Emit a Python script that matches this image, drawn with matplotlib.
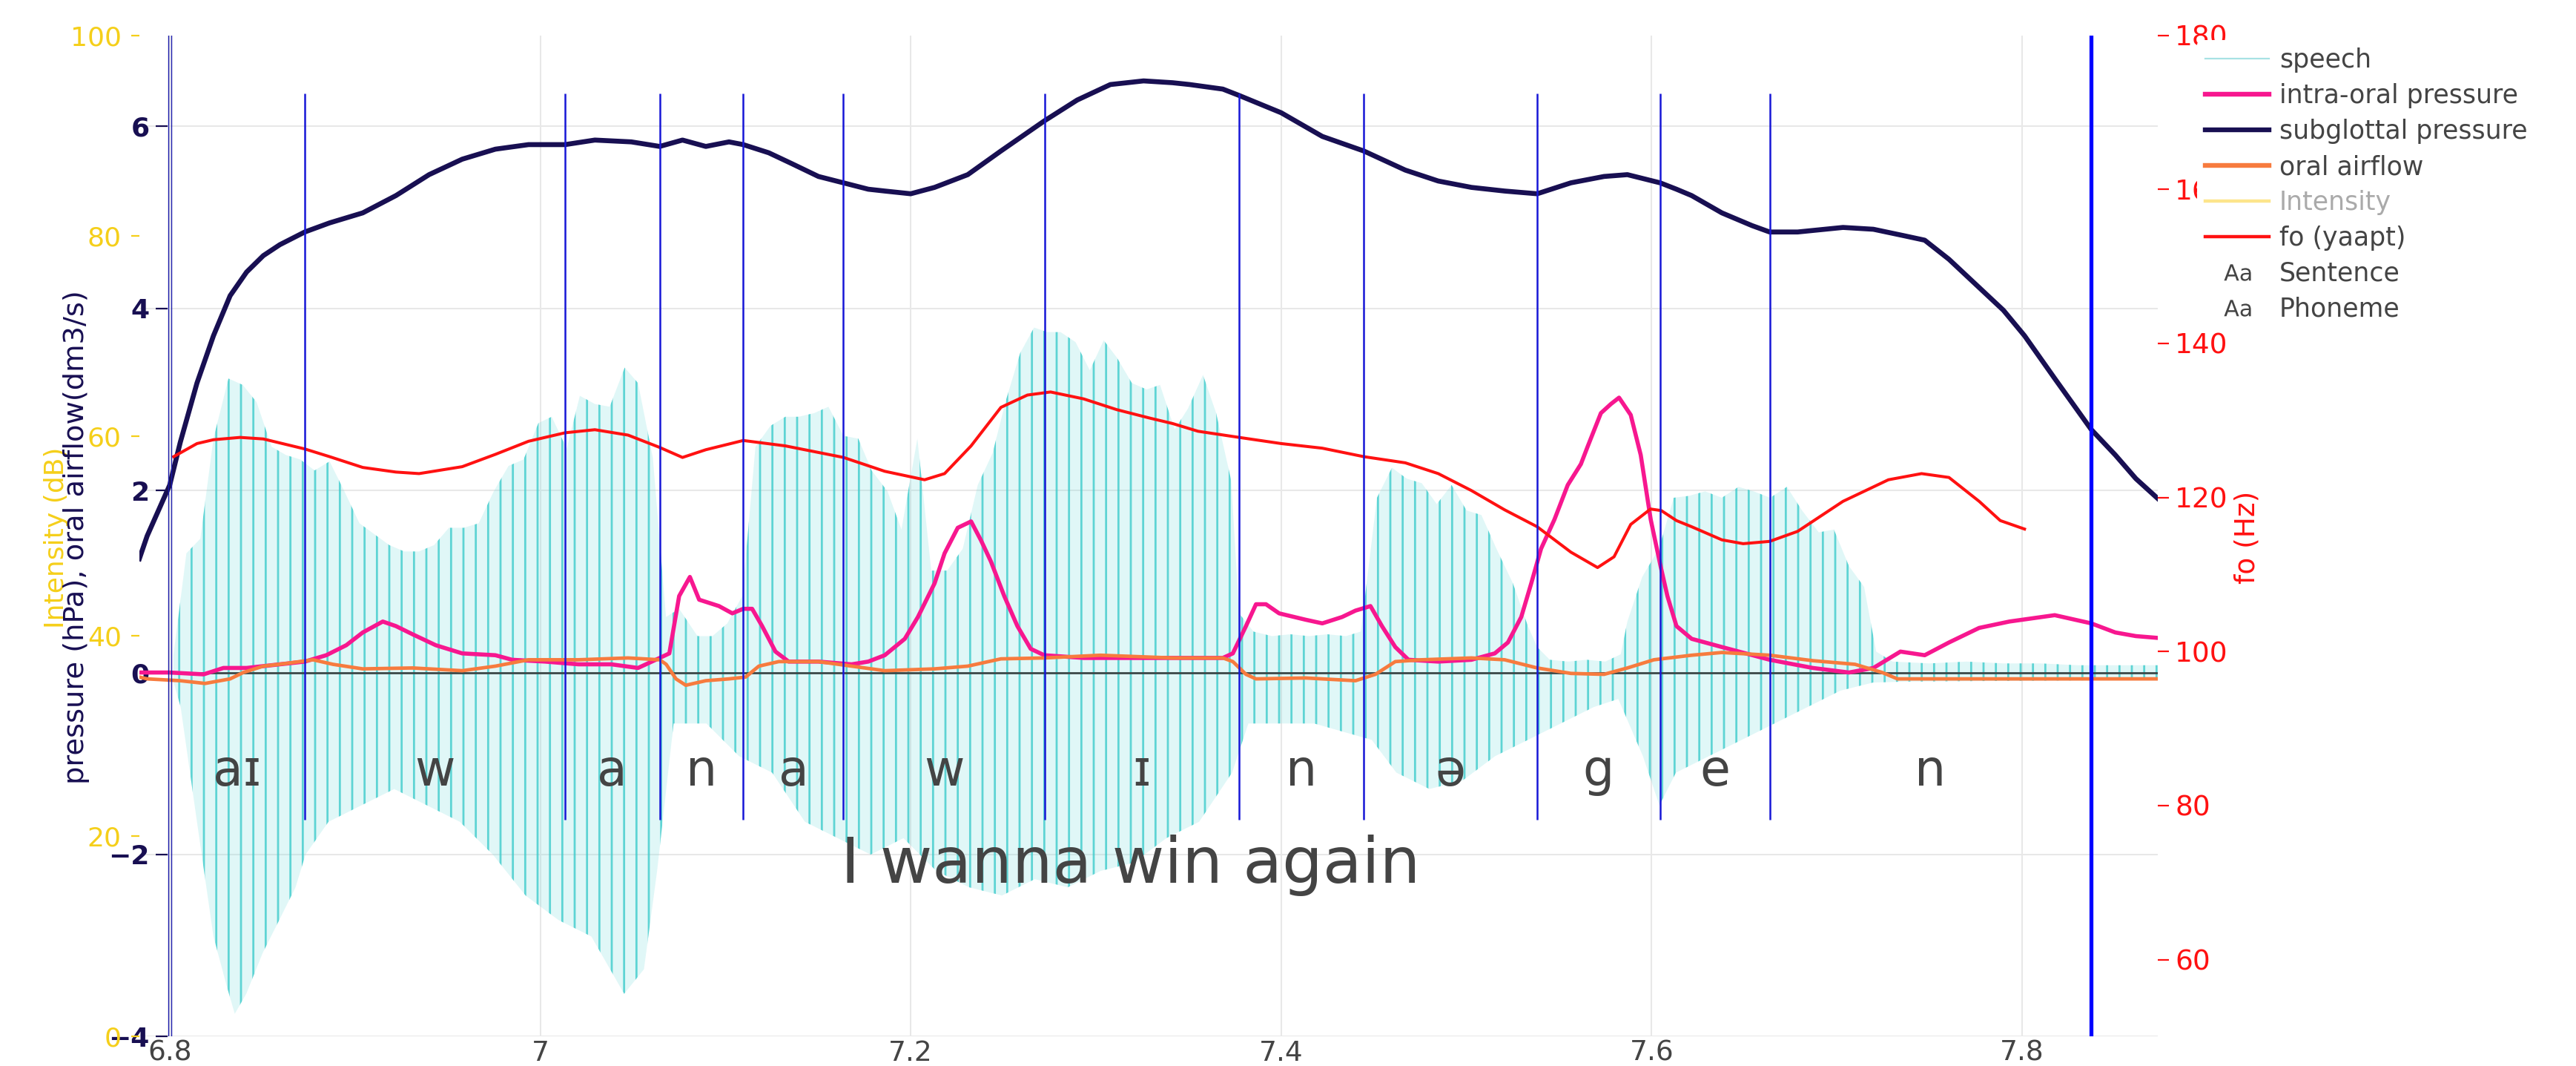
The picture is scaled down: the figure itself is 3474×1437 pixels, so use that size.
import numpy as np
import matplotlib.pyplot as plt
import matplotlib.transforms as mtransforms
from matplotlib.lines import Line2D

plt.rcParams["font.family"] = ["DejaVu Sans"]
plt.rcParams["hatch.linewidth"] = 1.0

# 时间范围 (s)
x_min, x_max = 6.7836, 7.8733

# subglottal pressure (hPa)
sub_t = [6.7836, 6.7878, 6.8000, 6.8057, 6.8147, 6.8236, 6.8326, 6.8415, 6.8505, 6.8594,
         6.8729, 6.8863, 6.9042, 6.9221, 6.9400, 6.9579, 6.9758, 6.9937, 7.0134, 7.0295,
         7.0492, 7.0645, 7.0768, 7.0894, 7.1019, 7.1096, 7.1234, 7.1359, 7.1502, 7.1637,
         7.1771, 7.1860, 7.2000, 7.2129, 7.2308, 7.2487, 7.2721, 7.2899, 7.3078, 7.3257,
         7.3414, 7.3506, 7.3685, 7.3773, 7.4000, 7.4222, 7.4446, 7.4670, 7.4848, 7.5027,
         7.5206, 7.5382, 7.5564, 7.5743, 7.5869, 7.6046, 7.6134, 7.6216, 7.6379, 7.6542,
         7.6637, 7.6788, 7.7033, 7.7197, 7.7360, 7.7474, 7.7605, 7.7752, 7.7899, 7.8013,
         7.8176, 7.8373, 7.8503, 7.8614, 7.8733]
sub_p = [1.25, 1.50, 2.06, 2.53, 3.18, 3.70, 4.14, 4.40, 4.58, 4.70,
         4.84, 4.94, 5.05, 5.24, 5.47, 5.64, 5.75, 5.80, 5.80, 5.85,
         5.83, 5.78, 5.85, 5.78, 5.83, 5.80, 5.71, 5.59, 5.45, 5.38,
         5.31, 5.29, 5.26, 5.33, 5.47, 5.73, 6.06, 6.29, 6.46, 6.50,
         6.48, 6.46, 6.41, 6.34, 6.15, 5.89, 5.73, 5.52, 5.40, 5.33,
         5.29, 5.26, 5.38, 5.45, 5.47, 5.38, 5.31, 5.24, 5.05, 4.91,
         4.84, 4.84, 4.89, 4.87, 4.80, 4.75, 4.54, 4.26, 3.98, 3.70,
         3.23, 2.67, 2.39, 2.13, 1.91]

# intra-oral pressure (hPa)
io_t = [6.7836, 6.8000, 6.8183, 6.8290, 6.8415, 6.8594, 6.8729, 6.8845, 6.8953, 6.9042,
        6.9150, 6.9221, 6.9311, 6.9436, 6.9579, 6.9758, 6.9848, 7.0027, 7.0206, 7.0384,
        7.0528, 7.0645, 7.0697, 7.0750, 7.0808, 7.0858, 7.0965, 7.1037, 7.1096, 7.1144,
        7.1198, 7.1270, 7.1341, 7.1502, 7.1681, 7.1771, 7.1860, 7.1968, 7.2039, 7.2129,
        7.2183, 7.2254, 7.2326, 7.2380, 7.2433, 7.2505, 7.2576, 7.2648, 7.2721, 7.2934,
        7.3203, 7.3414, 7.3685, 7.3739, 7.3810, 7.3864, 7.3918, 7.3989, 7.4132, 7.4222,
        7.4329, 7.4401, 7.4482, 7.4544, 7.4616, 7.4687, 7.4848, 7.5027, 7.5153, 7.5224,
        7.5296, 7.5350, 7.5403, 7.5475, 7.5547, 7.5618, 7.5654, 7.5726, 7.5780, 7.5824,
        7.5887, 7.5941, 7.5995, 7.6048, 7.6085, 7.6134, 7.6216, 7.6379, 7.6637, 7.6870,
        7.7065, 7.7197, 7.7343, 7.7474, 7.7605, 7.7768, 7.7931, 7.8176, 7.8373, 7.8503,
        7.8614, 7.8733]
io_p = [0.00, 0.00, -0.02, 0.05, 0.05, 0.09, 0.12, 0.19, 0.30, 0.44,
        0.56, 0.51, 0.42, 0.30, 0.21, 0.19, 0.14, 0.12, 0.09, 0.09,
        0.05, 0.16, 0.21, 0.84, 1.05, 0.80, 0.73, 0.65, 0.70, 0.70,
        0.51, 0.23, 0.12, 0.12, 0.09, 0.12, 0.19, 0.37, 0.61, 0.98,
        1.31, 1.59, 1.66, 1.45, 1.22, 0.84, 0.51, 0.26, 0.19, 0.16,
        0.16, 0.16, 0.16, 0.21, 0.51, 0.75, 0.75, 0.65, 0.58, 0.54,
        0.61, 0.68, 0.73, 0.51, 0.28, 0.14, 0.12, 0.14, 0.21, 0.33,
        0.61, 0.98, 1.36, 1.68, 2.06, 2.29, 2.48, 2.85, 2.95, 3.02,
        2.83, 2.39, 1.68, 1.17, 0.84, 0.51, 0.37, 0.28, 0.14, 0.05,
        0.00, 0.05, 0.23, 0.19, 0.33, 0.49, 0.56, 0.63, 0.54, 0.44,
        0.40, 0.38]

# oral airflow (dm3/s)
oa_t = [6.7836, 6.7878, 6.8057, 6.8191, 6.8326, 6.8397, 6.8505, 6.8630, 6.8773, 6.8881,
        6.9042, 6.9311, 6.9579, 6.9758, 6.9937, 7.0206, 7.0474, 7.0645, 7.0680, 7.0733,
        7.0786, 7.0894, 7.1019, 7.1109, 7.1180, 7.1288, 7.1502, 7.1681, 7.1860, 7.2129,
        7.2308, 7.2487, 7.2722, 7.3024, 7.3414, 7.3685, 7.3739, 7.3810, 7.3864, 7.4132,
        7.4401, 7.4509, 7.4616, 7.4759, 7.5027, 7.5206, 7.5382, 7.5564, 7.5743, 7.5869,
        7.6012, 7.6216, 7.6379, 7.6637, 7.6870, 7.7098, 7.7245, 7.7327, 7.7686, 7.8733]
oa_v = [-0.05, -0.07, -0.09, -0.12, -0.07, 0.00, 0.07, 0.10, 0.14, 0.09,
        0.04, 0.05, 0.02, 0.07, 0.14, 0.14, 0.16, 0.14, 0.09, -0.07,
        -0.14, -0.09, -0.07, -0.05, 0.07, 0.12, 0.12, 0.07, 0.02, 0.04,
        0.07, 0.15, 0.16, 0.19, 0.16, 0.16, 0.12, -0.02, -0.07, -0.06,
        -0.09, -0.02, 0.12, 0.14, 0.16, 0.14, 0.05, -0.01, -0.02, 0.05,
        0.14, 0.19, 0.22, 0.19, 0.13, 0.09, 0.00, -0.07, -0.07, -0.07]

# fo (yaapt), Hz
fo_t = [6.8021, 6.8147, 6.8236, 6.8380, 6.8505, 6.8729, 6.8863, 6.9042, 6.9221, 6.9346,
        6.9579, 6.9758, 6.9937, 7.0134, 7.0295, 7.0474, 7.0645, 7.0768, 7.0894, 7.1096,
        7.1323, 7.1637, 7.1860, 7.2075, 7.2183, 7.2326, 7.2487, 7.2630, 7.2755, 7.2934,
        7.3113, 7.3292, 7.3414, 7.3551, 7.3773, 7.4000, 7.4222, 7.4446, 7.4670, 7.4848,
        7.5027, 7.5206, 7.5382, 7.5564, 7.5708, 7.5797, 7.5887, 7.5994, 7.6052, 7.6134,
        7.6216, 7.6379, 7.6494, 7.6637, 7.6788, 7.7033, 7.7278, 7.7457, 7.7605, 7.7768,
        7.7882, 7.8013]
fo_hz = [125.3, 127.0, 127.5, 127.8, 127.6, 126.3, 125.3, 123.9, 123.3, 123.1,
         124.0, 125.6, 127.3, 128.4, 128.8, 128.1, 126.5, 125.2, 126.2, 127.4,
         126.7, 125.2, 123.4, 122.3, 123.1, 126.7, 131.7, 133.3, 133.7, 132.8,
         131.4, 130.3, 129.6, 128.6, 127.8, 127.0, 126.4, 125.3, 124.5, 123.1,
         120.9, 118.4, 116.2, 112.9, 110.9, 112.3, 116.5, 118.5, 118.3, 117.0,
         116.2, 114.5, 114.0, 114.3, 115.6, 119.5, 122.3, 123.1, 122.6, 119.5,
         117.0, 115.9]

# speech waveform: upper and lower envelope of the pulses
sp_hi_t = [6.8020, 6.8090, 6.8165, 6.8236, 6.8317, 6.8394, 6.8469, 6.8550, 6.8627, 6.8705,
           6.8782, 6.8863, 6.8943, 6.9024, 6.9104, 6.9185, 6.9266, 6.9346, 6.9427, 6.9507,
           6.9588, 6.9668, 6.9749, 6.9829, 6.9910, 6.9990, 7.0062, 7.0143, 7.0214, 7.0295,
           7.0375, 7.0456, 7.0528, 7.0608, 7.0679, 7.0750, 7.0849, 7.0930, 7.1010, 7.1091,
           7.1162, 7.1243, 7.1323, 7.1395, 7.1479, 7.1556, 7.1637, 7.1717, 7.1789, 7.1875,
           7.1950, 7.2036, 7.2111, 7.2197, 7.2281, 7.2362, 7.2442, 7.2514, 7.2591, 7.2666,
           7.2737, 7.2809, 7.2890, 7.2967, 7.3042, 7.3113, 7.3194, 7.3274, 7.3346, 7.3425,
           7.3497, 7.3578, 7.3649, 7.3730, 7.3773, 7.3850, 7.3950, 7.4050, 7.4150, 7.4250,
           7.4350, 7.4430, 7.4517, 7.4598, 7.4678, 7.4759, 7.4840, 7.4920, 7.5001, 7.5081,
           7.5162, 7.5251, 7.5332, 7.5382, 7.5450, 7.5550, 7.5650, 7.5750, 7.5833, 7.5869,
           7.5949, 7.6039, 7.6119, 7.6199, 7.6289, 7.6379, 7.6469, 7.6551, 7.6640, 7.6730,
           7.6812, 7.6902, 7.6984, 7.7065, 7.7147, 7.7212, 7.7300, 7.7500, 7.7700, 7.7900,
           7.8100, 7.8300, 7.8500, 7.8733]
sp_hi = [0.19, 1.31, 1.47, 2.57, 3.23, 3.16, 2.97, 2.48, 2.39, 2.34,
         2.22, 2.32, 1.99, 1.64, 1.52, 1.40, 1.33, 1.33, 1.40, 1.59,
         1.59, 1.64, 1.99, 2.27, 2.34, 2.74, 2.81, 2.46, 3.04, 2.95,
         2.92, 3.35, 3.18, 2.36, 0.61, 0.70, 0.40, 0.40, 0.54, 0.84,
         2.48, 2.71, 2.81, 2.81, 2.85, 2.92, 2.60, 2.57, 2.22, 1.99,
         1.57, 2.57, 1.12, 1.12, 1.36, 2.06, 2.41, 2.99, 3.51, 3.79,
         3.74, 3.74, 3.63, 3.32, 3.65, 3.46, 3.18, 3.11, 3.16, 2.67,
         2.90, 3.27, 2.85, 2.11, 0.65, 0.45, 0.40, 0.42, 0.40, 0.42,
         0.40, 0.45, 1.92, 2.25, 2.13, 2.08, 1.85, 2.06, 1.78, 1.73,
         1.36, 0.98, 0.51, 0.28, 0.14, 0.12, 0.14, 0.12, 0.20, 0.56,
         1.05, 1.36, 1.92, 1.94, 1.99, 1.92, 2.04, 1.99, 1.92, 2.04,
         1.78, 1.54, 1.57, 1.17, 0.94, 0.23, 0.12, 0.10, 0.12, 0.10,
         0.10, 0.08, 0.08, 0.08]
sp_lo_t = [6.8020, 6.8059, 6.8147, 6.8236, 6.8307, 6.8351, 6.8413, 6.8502, 6.8591, 6.8679,
           6.8733, 6.8857, 6.9034, 6.9212, 6.9389, 6.9566, 6.9744, 6.9921, 7.0099, 7.0276,
           7.0453, 7.0560, 7.0631, 7.0720, 7.0897, 7.1074, 7.1252, 7.1429, 7.1606, 7.1784,
           7.1961, 7.2138, 7.2316, 7.2493, 7.2670, 7.2848, 7.3025, 7.3203, 7.3380, 7.3557,
           7.3735, 7.3823, 7.4178, 7.4489, 7.4622, 7.4800, 7.4977, 7.5154, 7.5332, 7.5509,
           7.5687, 7.5820, 7.5953, 7.6042, 7.6131, 7.6308, 7.6486, 7.6663, 7.6841, 7.7018,
           7.7195, 7.7373, 7.8733]
sp_lo = [-0.10, -0.38, -1.64, -2.90, -3.44, -3.75, -3.53, -3.08, -2.72, -2.36,
         -2.00, -1.64, -1.46, -1.28, -1.46, -1.64, -2.00, -2.45, -2.72, -2.90,
         -3.53, -3.26, -2.18, -0.56, -0.56, -0.92, -1.10, -1.64, -1.82, -2.00,
         -1.82, -2.18, -2.36, -2.45, -2.27, -2.36, -2.18, -2.09, -1.82, -1.64,
         -1.10, -0.56, -0.56, -0.74, -1.10, -1.28, -1.19, -0.92, -0.74, -0.56,
         -0.38, -0.29, -0.92, -1.46, -1.10, -0.92, -0.74, -0.56, -0.38, -0.20,
         -0.11, -0.10, -0.08]

# 音素边界与标注
phone_bounds = [6.8729, 7.0134, 7.0645, 7.1096, 7.1637, 7.2722, 7.3773, 7.4446,
                7.5382, 7.6046, 7.6637]
phone_labels = ["aɪ", "w", "a", "n", "a", "w", "ɪ", "n", "ə", "g", "e", "n"]
sent_start, sent_end = 6.8000, 7.8373
sentence = "I wanna win again"

navy = "#180f52"
pink = "#f7178f"
orange = "#f77b3e"
gold = "#f5cf1a"
red = "#ff1111"
grey_txt = "#444444"

fig = plt.figure(figsize=(17.37, 7.185), dpi=200)
ax = fig.add_axes([0.0541, 0.0276, 0.7836, 0.9392])
ax_int = ax.twinx()
ax_f0 = ax.twinx()

for a in (ax, ax_int, ax_f0):
    for s in a.spines.values():
        s.set_visible(False)

# 主轴：压力/气流
ax.set_xlim(x_min, x_max)
ax.set_ylim(-4, 7)
ax.set_axisbelow(True)
ax.set_xticks([6.8, 7.0, 7.2, 7.4, 7.6, 7.8])
ax.set_xticklabels(["6.8", "7", "7.2", "7.4", "7.6", "7.8"])
ax.tick_params(axis="x", length=0, pad=1.5, labelsize=13.5, labelcolor=grey_txt)
ax.set_yticks([-4, -2, 0, 2, 4, 6])
ax.spines["left"].set_position(("data", 6.7988))
ax.tick_params(axis="y", direction="out", length=5.8, width=0.8, color=navy,
               labelcolor=navy, labelsize=13, pad=2.9)
for lbl in ax.get_yticklabels():
    lbl.set_fontweight("bold")
ax.grid(True, color="#e8e8e8", lw=0.75)

# speech 波形（包络 + 竖线纹理）
poly_t = np.r_[sp_hi_t, sp_lo_t[::-1]]
poly_v = np.r_[sp_hi, sp_lo[::-1]]
ax.fill(poly_t, poly_v, facecolor=(0.40, 0.85, 0.85, 0.20),
        edgecolor=(0.20, 0.79, 0.79, 0.75), hatch="||", linewidth=0, zorder=1.5)

ax.axhline(0, color="#3b4848", lw=1.0, zorder=2)
ax.plot(io_t, io_p, color=pink, lw=2.0, zorder=3)
ax.plot(sub_t, sub_p, color=navy, lw=2.4, zorder=3.1)
ax.plot(oa_t, oa_v, color=orange, lw=1.7, zorder=3.2)

# Intensity 轴（左侧外缘）
ax_int.yaxis.tick_left()
ax_int.set_ylim(0, 100)
ax_int.set_yticks([0, 20, 40, 60, 80, 100])
ax_int.tick_params(axis="y", direction="out", length=4, width=0.8, color=gold,
                   labelcolor=gold, labelsize=13, pad=4.7)

# fo 轴（右侧）
ax_f0.set_ylim(50, 180)
ax_f0.set_yticks([60, 80, 100, 120, 140, 160, 180])
ax_f0.tick_params(axis="y", direction="out", length=5.4, width=0.8, color=red,
                  labelcolor=red, labelsize=13.5, pad=2.9)
ax_f0.plot(fo_t, fo_hz, color=red, lw=1.45, zorder=2)

# 边界线与文字（x 用数据坐标，y 用压力轴坐标）
blend = mtransforms.blended_transform_factory(ax_f0.transData, ax.transData)
ax_f0.vlines(phone_bounds, -1.62, 6.36, transform=blend, colors="#1616d6", lw=0.9, zorder=5)
ax_f0.axvline(sent_start - 0.0007, color="#1a1aa8", lw=0.5, zorder=5)
ax_f0.axvline(sent_start + 0.0007, color="#1a1aa8", lw=0.5, zorder=5)
ax_f0.axvline(sent_end, color="#0000ff", lw=1.9, zorder=5)

edges = [sent_start] + phone_bounds + [sent_end]
for i, lab in enumerate(phone_labels):
    mid = (edges[i] + edges[i + 1]) / 2
    ax_f0.text(mid, -1.24, lab, transform=blend, ha="center", va="baseline",
               fontsize=24, color=grey_txt, zorder=6)
ax_f0.text((sent_start + sent_end) / 2, -2.31, sentence, transform=blend, ha="center",
           va="baseline", fontsize=31, color=grey_txt, zorder=6)

# 轴标题
fig.text(76 / 3474, 0.4958, "Intensity (dB)", rotation=90, ha="center", va="center",
         fontsize=13, color=gold)
fig.text(103 / 3474, 0.4958, "pressure (hPa), oral airflow(dm3/s)", rotation=90,
         ha="center", va="center", fontsize=13.8, color=navy)
fig.text(3030 / 3474, 0.4958, "fo (Hz)", rotation=90, ha="center", va="center",
         fontsize=13.5, color=red)

# 图例
handles = [
    Line2D([], [], color="#a8e2e4", lw=0.8),
    Line2D([], [], color=pink, lw=2.3),
    Line2D([], [], color=navy, lw=2.3),
    Line2D([], [], color=orange, lw=2.3),
    Line2D([], [], color="#fde58c", lw=1.6),
    Line2D([], [], color=red, lw=1.6),
    Line2D([], [], ls="none", marker=r"$\mathsf{Aa}$", ms=13, color=grey_txt, mew=0),
    Line2D([], [], ls="none", marker=r"$\mathsf{Aa}$", ms=13, color=grey_txt, mew=0),
]
labels = ["speech", "intra-oral pressure", "subglottal pressure", "oral airflow",
          "Intensity", "fo (yaapt)", "Sentence", "Phoneme"]
leg = fig.legend(handles, labels, loc="upper left", bbox_to_anchor=(0.853, 0.9624),
                 frameon=True, facecolor="white", edgecolor="none", framealpha=1,
                 fontsize=12.5, handlelength=2.48, handletextpad=0.4,
                 labelspacing=0.4, borderpad=0.3, borderaxespad=0)
for txt in leg.get_texts():
    txt.set_color(grey_txt)
leg.get_texts()[4].set_color("#aaaaaa")

fig.savefig("out.png", dpi=200)
